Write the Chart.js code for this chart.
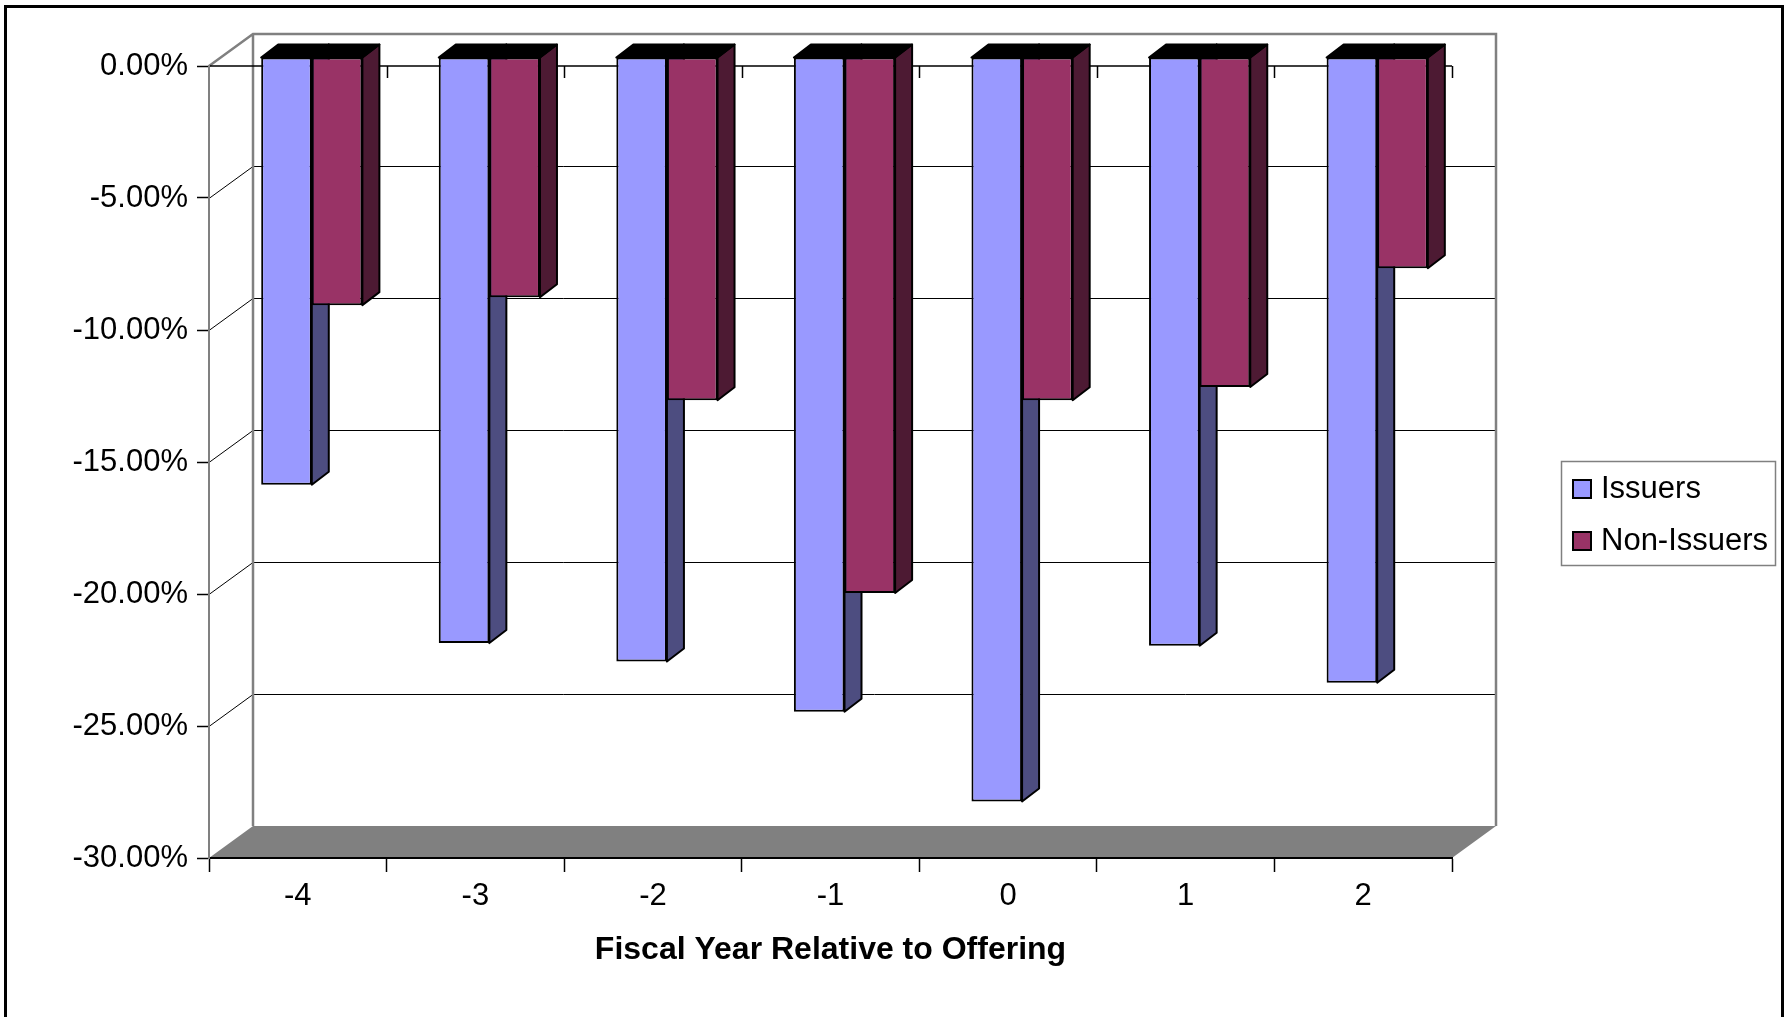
<!DOCTYPE html>
<html lang="en">
<head>
  <meta charset="UTF-8">
  <title>Issuers vs Non-Issuers | Fiscal Year Relative to Offering</title>
  <script src="https://cdn.jsdelivr.net/npm/chart.js"></script>
  <style>
    body {
      margin: 0;
      background: #fff;
    }

    #wrap {
      width: 1786px;
      height: 1017px;
    }
  </style>
</head>
<body>

  <div id="wrap"><canvas id="chart" width="1786" height="1017"></canvas></div>

  <script>
    const years = ['-4', '-3', '-2', '-1', '0', '1', '2'];
    const issuers = [-16.2, -22.2, -22.9, -24.8, -28.2, -22.3, -23.7];
    const nonIssuers = [-9.4, -9.1, -13.0, -20.3, -13.0, -12.5, -8.0];
    const yTicks = [0, -5, -10, -15, -20, -25, -30];

    const FONT = '"Liberation Sans", Arial, sans-serif';

    // oblique offsets of the 3D box, the bar plane and the bar depth
    const BACK = { dx: 44, dy: -32 };
    const SHIFT = { dx: 14, dy: -9 };
    const DEPTH = { dx: 17, dy: -13 };

    function poly(ctx, pts) {
      ctx.beginPath();
      ctx.moveTo(pts[0][0], pts[0][1]);
      for (let i = 1; i < pts.length; i++) ctx.lineTo(pts[i][0], pts[i][1]);
      ctx.closePath();
      ctx.fill();
      ctx.stroke();
    }

    // frame, floor, walls, gridlines on the back wall
    const box3d = {
      id: 'box3d',
      beforeDraw(chart) {
        const { ctx, chartArea: a, scales: { x, y } } = chart;
        const yTop = y.getPixelForValue(y.max);
        const yBot = y.getPixelForValue(y.min);
        ctx.save();

        ctx.strokeStyle = '#000';
        ctx.lineWidth = 3;
        ctx.strokeRect(5.5, 6.5, 1777, 1040);

        // floor
        ctx.fillStyle = '#808080';
        ctx.beginPath();
        ctx.moveTo(a.left, yBot);
        ctx.lineTo(a.left + BACK.dx, yBot + BACK.dy);
        ctx.lineTo(a.right + BACK.dx, yBot + BACK.dy);
        ctx.lineTo(a.right, yBot);
        ctx.closePath();
        ctx.fill();

        // gridlines on back wall and side wall
        ctx.strokeStyle = '#000';
        ctx.lineWidth = 1;
        yTicks.forEach(v => {
          if (v === y.max || v === y.min) return;
          const py = Math.round(y.getPixelForValue(v)) + 0.5;
          ctx.beginPath();
          ctx.moveTo(a.left + BACK.dx, py + BACK.dy);
          ctx.lineTo(a.right + BACK.dx, py + BACK.dy);
          ctx.moveTo(a.left, py);
          ctx.lineTo(a.left + BACK.dx, py + BACK.dy);
          ctx.stroke();
        });

        // wall edges
        ctx.strokeStyle = '#808080';
        ctx.lineWidth = 2.5;
        ctx.beginPath();
        ctx.moveTo(a.left, yTop);
        ctx.lineTo(a.left + BACK.dx, yTop + BACK.dy);
        ctx.lineTo(a.right + BACK.dx, yTop + BACK.dy);
        ctx.lineTo(a.right + BACK.dx, yBot + BACK.dy);
        ctx.moveTo(a.left + BACK.dx, yTop + BACK.dy);
        ctx.lineTo(a.left + BACK.dx, yBot + BACK.dy);
        ctx.stroke();

        // category axis line at zero, with its tick marks
        const yz = y.getPixelForValue(0);
        const half = (x.getPixelForValue(1) - x.getPixelForValue(0)) / 2;
        ctx.strokeStyle = '#000';
        ctx.lineWidth = 1.5;
        ctx.beginPath();
        ctx.moveTo(a.left, yz);
        ctx.lineTo(a.right, yz);
        years.forEach((_, i) => {
          const bx = Math.round(x.getPixelForValue(i) + half) + 0.5;
          ctx.moveTo(bx, yz);
          ctx.lineTo(bx, yz + 12);
        });
        ctx.stroke();
        ctx.restore();
      }
    };

    // bars sit inside the box: sides and tops first, then the library draws the fronts
    const bars3d = {
      id: 'bars3d',
      beforeDatasetsDraw(chart) {
        const ctx = chart.ctx;
        ctx.save();
        ctx.translate(SHIFT.dx, SHIFT.dy);
        ctx.strokeStyle = '#000';
        ctx.lineWidth = 2;
        ctx.lineJoin = 'round';
        chart.data.datasets.forEach((ds, di) => {
          chart.getDatasetMeta(di).data.forEach(bar => {
            const { x, y, base, width } = bar.getProps(['x', 'y', 'base', 'width'], true);
            const l = x - width / 2, r = x + width / 2;
            ctx.fillStyle = ds.sideColor;
            poly(ctx, [[r, base], [r + DEPTH.dx, base + DEPTH.dy], [r + DEPTH.dx, y + DEPTH.dy], [r, y]]);
            ctx.fillStyle = '#000';
            poly(ctx, [[l, base], [l + DEPTH.dx, base + DEPTH.dy], [r + DEPTH.dx, base + DEPTH.dy], [r, base]]);
          });
        });
        ctx.restore();
      },
      beforeDatasetDraw(chart) {
        chart.ctx.save();
        chart.ctx.translate(SHIFT.dx, SHIFT.dy);
      },
      afterDatasetDraw(chart) {
        chart.ctx.restore();
      }
    };

    const boxLegend = {
      id: 'boxLegend',
      afterDraw(chart) {
        const ctx = chart.ctx;
        ctx.save();
        ctx.fillStyle = '#fff';
        ctx.fillRect(1561, 461, 214, 104);
        ctx.strokeStyle = '#808080';
        ctx.lineWidth = 1.5;
        ctx.strokeRect(1561.5, 461.5, 214, 104);
        ctx.font = '31px ' + FONT;
        ctx.textBaseline = 'middle';
        chart.data.datasets.forEach((ds, i) => {
          const cy = 489 + i * 52;
          ctx.fillStyle = ds.backgroundColor;
          ctx.fillRect(1573, cy - 9, 18, 18);
          ctx.strokeStyle = '#000';
          ctx.lineWidth = 2;
          ctx.strokeRect(1573, cy - 9, 18, 18);
          ctx.fillStyle = '#000';
          ctx.fillText(ds.label, 1601, cy);
        });
        ctx.restore();
      }
    };

    new Chart(document.getElementById('chart'), {
      type: 'bar',
      data: {
        labels: years,
        datasets: [
          {
            label: 'Issuers',
            data: issuers,
            backgroundColor: '#9999FF',
            sideColor: '#4D4D80',
            clip: false
          },
          {
            label: 'Non-Issuers',
            data: nonIssuers,
            backgroundColor: '#993366',
            sideColor: '#4D1A33',
            clip: false
          }
        ]
      },
      options: {
        responsive: false,
        animation: false,
        devicePixelRatio: 1,
        layout: { padding: { top: 66, right: 334, bottom: 0, left: 0 } },
        datasets: {
          bar: {
            borderColor: '#000',
            borderWidth: 2,
            borderSkipped: false,
            categoryPercentage: 0.57,
            barPercentage: 1
          }
        },
        plugins: {
          legend: { display: false },
          tooltip: { enabled: false }
        },
        scales: {
          x: {
            grid: { offset: true, drawOnChartArea: false, tickLength: 14, tickColor: '#000', tickWidth: 1.5 },
            border: { color: '#000', width: 2 },
            ticks: { color: '#000', font: { family: FONT, size: 31 }, padding: 6 },
            title: {
              display: true,
              text: 'Fiscal Year Relative to Offering',
              color: '#000',
              font: { family: FONT, size: 32, weight: 'bold' },
              padding: { top: 0, bottom: 48 }
            },
            afterFit: s => { s.height = 159; }
          },
          y: {
            min: Math.min(...yTicks),
            max: Math.max(...yTicks),
            ticks: {
              stepSize: 5,
              color: '#000',
              font: { family: FONT, size: 31 },
              padding: 9,
              callback: v => v.toFixed(2) + '%'
            },
            grid: { drawOnChartArea: false, tickLength: 12, tickColor: '#000', tickWidth: 1.5 },
            border: { color: '#808080', width: 2 },
            afterFit: s => { s.width = 209; }
          }
        }
      },
      plugins: [box3d, bars3d, boxLegend]
    });
  </script>

</body>
</html>
